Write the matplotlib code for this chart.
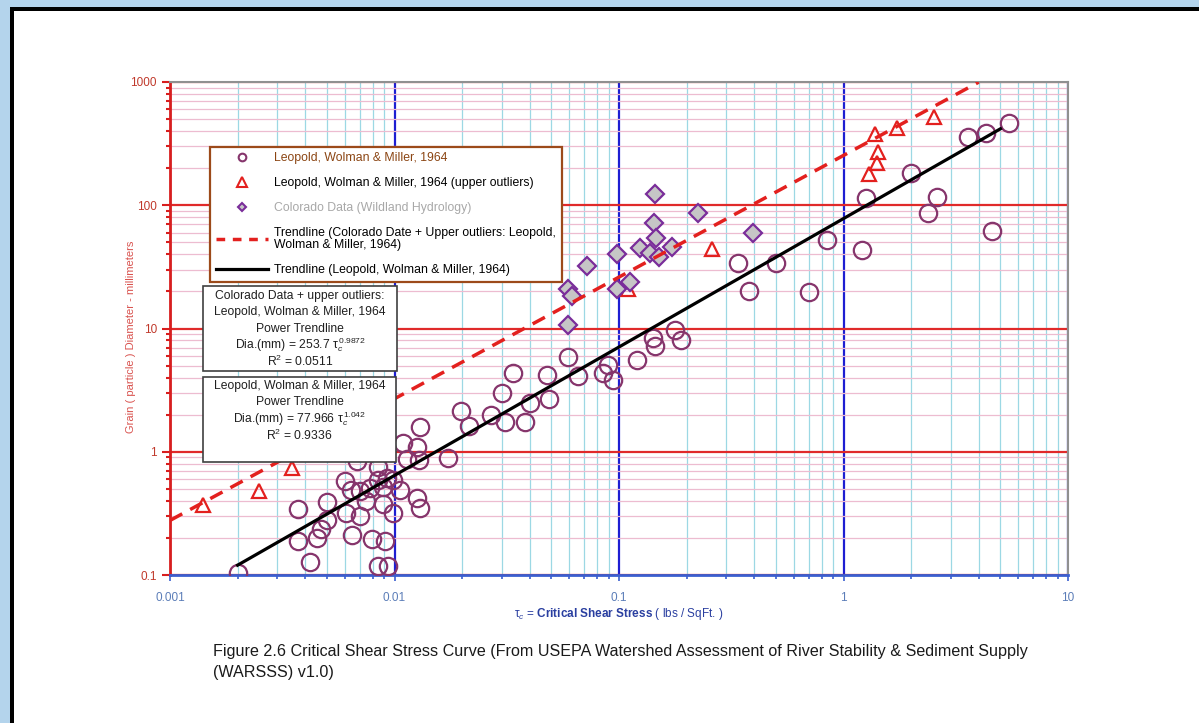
import numpy as np
import matplotlib.pyplot as plt
from matplotlib.patches import Rectangle
from matplotlib.lines import Line2D

plt.rcParams['font.family'] = ['Liberation Sans', 'DejaVu Sans']
plt.rcParams['mathtext.fontset'] = 'custom'
plt.rcParams['mathtext.rm'] = 'Liberation Sans'
plt.rcParams['mathtext.it'] = 'Liberation Sans:italic'
plt.rcParams['mathtext.bf'] = 'Liberation Sans:bold'

# Leopold, Wolman & Miller, 1964 (shear stress lbs/sqft, diameter mm)
lwm_tau = [0.002, 0.0037, 0.0037, 0.0042, 0.0045, 0.0047, 0.005, 0.005, 0.006, 0.0061,
           0.0065, 0.0064, 0.0068, 0.007, 0.007, 0.0075, 0.0078, 0.0079, 0.0084, 0.0084,
           0.0084, 0.0089, 0.0089, 0.0091, 0.0093, 0.0094, 0.0098, 0.0098, 0.0106, 0.0109,
           0.0114, 0.0126, 0.013, 0.0128, 0.0126, 0.013, 0.0173, 0.0198, 0.0215, 0.027,
           0.030, 0.031, 0.0337, 0.038, 0.040, 0.048, 0.049, 0.059, 0.066, 0.085,
           0.089, 0.094, 0.12, 0.142, 0.145, 0.178, 0.189, 0.34, 0.38, 0.50,
           0.70, 0.84, 1.21, 1.26, 2.0, 2.38, 2.6, 3.6, 4.3, 5.45, 4.6]
lwm_dia = [0.104, 0.34, 0.19, 0.127, 0.20, 0.236, 0.28, 0.39, 0.58, 0.32,
           0.21, 0.49, 0.84, 0.30, 0.48, 0.40, 0.51, 0.196, 0.59, 0.75,
           0.118, 0.52, 0.38, 0.19, 0.61, 0.118, 0.59, 0.32, 0.49, 1.18,
           0.87, 1.09, 1.59, 0.86, 0.42, 0.35, 0.89, 2.14, 1.62, 2.0,
           3.0, 1.74, 4.35, 1.74, 2.5, 4.2, 2.7, 5.9, 4.1, 4.35,
           5.1, 3.8, 5.55, 8.4, 7.2, 9.7, 8.1, 34, 20, 34,
           19.8, 52, 43, 115, 183, 86, 117, 358, 385, 464, 62]

# upper outliers
out_tau = [0.0014, 0.0025, 0.0035, 0.11, 0.26, 1.38, 1.73, 1.42, 1.41, 1.30, 2.53]
out_dia = [0.37, 0.48, 0.74, 21, 44, 380, 424, 270, 220, 180, 520]

# Colorado data (Wildland Hydrology)
col_tau = [0.145, 0.225, 0.143, 0.146, 0.124, 0.137, 0.151, 0.172, 0.098, 0.072,
           0.112, 0.098, 0.059, 0.062, 0.059, 0.395]
col_dia = [123, 87, 72, 54, 45, 41, 38, 46, 40, 32,
           24, 21, 21, 18.4, 10.7, 60]

# power trendlines: Dia = a * tau^b
trend_up_a, trend_up_b, trend_up_range = 253.7, 0.9872, (0.001, 4.0)
trend_lwm_a, trend_lwm_b, trend_lwm_range = 77.966, 1.042, (0.002, 5.0)

x_ticks = [0.001, 0.01, 0.1, 1, 10]
x_labels = ['0.001', '0.01', '0.1', '1', '10']
y_ticks = [0.1, 1, 10, 100, 1000]
y_labels = ['0.1', '1', '10', '100', '1000']

W, H = 1199, 723
fig = plt.figure(figsize=(W / 100, H / 100), dpi=100)
fig.patch.set_facecolor('white')

# page frame
fig.add_artist(Rectangle((0, 0), 10 / W, 1, transform=fig.transFigure, color='#B4D4EC', lw=0))
fig.add_artist(Rectangle((0, 1 - 7 / H), 1, 7 / H, transform=fig.transFigure, color='#B4D4EC', lw=0))
fig.add_artist(Rectangle((10 / W, 0), 4 / W, 1 - 7 / H, transform=fig.transFigure, color='black', lw=0))
fig.add_artist(Rectangle((10 / W, 1 - 11 / H), 1 - 10 / W, 4 / H, transform=fig.transFigure, color='black', lw=0))

ax = fig.add_axes([170 / W, 1 - 575 / H, 898 / W, 493 / H])
ax.set_xscale('log')
ax.set_yscale('log')
ax.set_xlim(0.001, 10)
ax.set_ylim(0.1, 1000)
ax.set_axisbelow(True)

ax.grid(which='minor', axis='x', color='#9CD8E4', lw=0.9)
ax.grid(which='minor', axis='y', color='#EDBCD0', lw=0.9)
ax.grid(which='major', axis='x', color='#1E1ED2', lw=1.6)
ax.grid(which='major', axis='y', color='#E02A2A', lw=1.6)

ax.set_xticks(x_ticks)
ax.set_xticklabels(x_labels)
ax.set_yticks(y_ticks)
ax.set_yticklabels(y_labels)
ax.tick_params(axis='x', which='both', direction='out', color='#3A5FD0', width=1.2,
               labelcolor='#5B7DB8', labelsize=8.5, pad=8)
ax.tick_params(axis='x', which='major', length=4)
ax.tick_params(axis='x', which='minor', length=3)
ax.tick_params(axis='y', which='both', direction='out', color='#D81E1E', width=1.5,
               labelcolor='#C0392B', labelsize=8.5)
ax.tick_params(axis='y', which='major', length=6)
ax.tick_params(axis='y', which='minor', length=3)

ax.spines['left'].set_color('#D81E1E')
ax.spines['left'].set_linewidth(2)
ax.spines['bottom'].set_color('#3A5FD0')
ax.spines['bottom'].set_linewidth(2)
for s in ['top', 'right']:
    ax.spines[s].set_color('#909090')
    ax.spines[s].set_linewidth(1.5)

circ_col = '#86356C'
tri_col = '#E3201E'
dia_edge = '#7A2D9A'

ax.plot(lwm_tau, lwm_dia, ls='none', marker='o', ms=12.5, mfc='none', mec=circ_col, mew=1.6, zorder=3)
ax.plot(out_tau, out_dia, ls='none', marker='^', ms=10, mfc='none', mec=tri_col, mew=1.6, zorder=3)
ax.plot(col_tau, col_dia, ls='none', marker='D', ms=9.5, mfc='#C6C6C6', mec=dia_edge, mew=1.6, zorder=3)

xt = np.logspace(np.log10(trend_up_range[0]), np.log10(trend_up_range[1]), 100)
ax.plot(xt, trend_up_a * xt ** trend_up_b, color=tri_col, lw=2.5, dashes=(4, 2.6), zorder=4)
xt = np.logspace(np.log10(trend_lwm_range[0]), np.log10(trend_lwm_range[1]), 100)
ax.plot(xt, trend_lwm_a * xt ** trend_lwm_b, color='black', lw=2.3, zorder=4)

ax.set_xlabel('τ$_c$ = $\\mathbf{Critical\\ Shear\\ Stress}$ ( lbs / SqFt. )', color='#2A3FA0', fontsize=8.5)
ax.xaxis.set_label_coords(0.5, -0.062)
ax.set_ylabel('Grain ( particle ) Diameter - millimeters', color='#D9534F', fontsize=8)
ax.yaxis.set_label_coords(-0.038, 0.483)

handles = [
    Line2D([], [], ls='none', marker='o', ms=5.5, mfc='none', mec=circ_col, mew=1.5),
    Line2D([], [], ls='none', marker='^', ms=6.5, mfc='none', mec=tri_col, mew=1.5),
    Line2D([], [], ls='none', marker='D', ms=4.5, mfc='#C6C6C6', mec=dia_edge, mew=1.5),
    Line2D([], [], color=tri_col, lw=2.5, dashes=(2.5, 2.2)),
    Line2D([], [], color='black', lw=2.3),
]
labels = [
    'Leopold, Wolman & Miller, 1964',
    'Leopold, Wolman & Miller, 1964 (upper outliers)',
    'Colorado Data (Wildland Hydrology)',
    'Trendline (Colorado Date + Upper outliers: Leopold,\nWolman & Miller, 1964)',
    'Trendline (Leopold, Wolman & Miller, 1964)',
]
leg = ax.legend(handles, labels, loc='upper left', bbox_to_anchor=(210 / W, 1 - 147 / H),
                bbox_transform=fig.transFigure, fontsize=8.8, fancybox=False, framealpha=1,
                edgecolor='#9C4A1A', borderpad=0.45, labelspacing=1.05, handlelength=4.3,
                handletextpad=0.5, borderaxespad=0)
leg.get_frame().set_linewidth(1.6)
leg.set_zorder(10)
text_cols = ['#8B4513', 'black', '#A8A8A8', 'black', 'black']
for t, c in zip(leg.get_texts(), text_cols):
    t.set_color(c)
    t.set_linespacing(1.05)

# trendline annotation boxes
box1 = ['Colorado Data + upper outliers:', 'Leopold, Wolman & Miller, 1964', 'Power Trendline',
        'Dia.(mm) = 253.7 τ$_c^{\\,0.9872}$', 'R$^2$ = 0.0511']
box2 = ['Leopold, Wolman & Miller, 1964', 'Power Trendline',
        'Dia.(mm) = 77.966 τ$_c^{\\,1.042}$', 'R$^2$ = 0.9336']
for (x0, y0, x1, y1), lines, y_start in [((203, 286, 397, 371), box1, 296),
                                         ((203, 377, 396, 462), box2, 386)]:
    ax.add_patch(Rectangle((x0 / W, 1 - y1 / H), (x1 - x0) / W, (y1 - y0) / H,
                           transform=fig.transFigure, facecolor='white', edgecolor='#404040',
                           lw=1.2, zorder=11, clip_on=False))
    for i, line in enumerate(lines):
        ax.text((x0 + x1) / 2 / W, 1 - (y_start + i * 16.3) / H, line, transform=fig.transFigure,
                ha='center', va='center', fontsize=8.7, color='#202020', zorder=12)

fig.text(213 / W, 1 - 644 / H, 'Figure 2.6 Critical Shear Stress Curve (From USEPA Watershed Assessment '
         'of River Stability & Sediment Supply\n(WARSSS) v1.0)', fontsize=11.6, color='#1A1A1A',
         va='top', linespacing=1.5)

fig.savefig('out.png', dpi=100, facecolor='white')
